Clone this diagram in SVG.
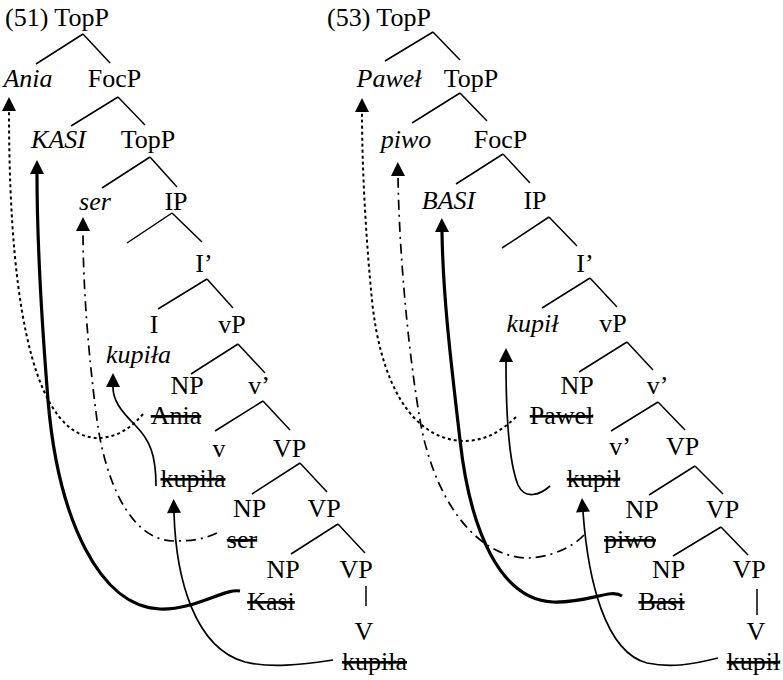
<svg xmlns="http://www.w3.org/2000/svg" width="783" height="680" viewBox="0 0 783 680">
<style>
text{font-family:"Liberation Serif","Times New Roman",serif;font-size:26px;fill:#000;text-anchor:middle}
.l{text-anchor:start}
.it{font-style:italic}
.st{text-decoration:line-through}
.tr{stroke:#000;stroke-width:1.5;fill:none}
.mv{fill:none;stroke:#000;stroke-width:1.7}
.thick{stroke-width:3.2}
.dot{stroke-width:2;stroke-dasharray:3 3}
.dd{stroke-dasharray:10 5 2 5}
</style>
<defs>
<marker id="ah" markerUnits="userSpaceOnUse" markerWidth="15" markerHeight="14" refX="0" refY="7" orient="auto" overflow="visible">
<path d="M0,0 L14,7 L0,14 Z" fill="#000" stroke="none"/>
</marker>
</defs>
<g id="connectors">
<g id="tree-lines" class="tr">
<path d="M83,34 L36,64 M83,34 L110,63"/>
<path d="M118,97 L71,126 M118,97 L145,125"/>
<path d="M150,157 L102,188 M150,157 L177,187"/>
<path d="M172,213 L127,243 M172,213 L202,242"/>
<path d="M207,279 L158,309 M207,279 L233,308"/>
<path d="M238,344 L191,374 M238,344 L265,373"/>
<path d="M263,401 L215,431 M263,401 L290,430"/>
<path d="M300,463 L252,494 M300,463 L327,492"/>
<path d="M338,524 L291,554 M338,524 L365,553"/>
<path d="M366,586 L366,606"/>
<path d="M433,32 L385,61 M433,32 L460,60"/>
<path d="M460,93 L412,123 M460,93 L487,121"/>
<path d="M503,154 L456,184 M503,154 L530,183"/>
<path d="M549,217 L502,248 M549,217 L577,246"/>
<path d="M590,278 L542,308 M590,278 L617,307"/>
<path d="M627,342 L579,372 M627,342 L653,370"/>
<path d="M658,402 L611,431 M658,402 L685,430"/>
<path d="M695,466 L649,495 M695,466 L723,494"/>
<path d="M721,527 L673,556 M721,527 L748,555"/>
<path d="M757,589 L757,615"/>
</g>
<g id="movement-51">
<path class="mv dot" marker-end="url(#ah)" d="M143,414 C128,432 112,438 97,438 C40,436 9,330 9,111"/>
<path class="mv thick" marker-end="url(#ah)" d="M240,591 C225,588 195,610 160,609 C100,607 58,520 48,400 C40,300 37,230 37,174"/>
<path class="mv dd" marker-end="url(#ah)" d="M217,533 C200,541 185,541 173,541 C130,540 105,480 97,420 C89,360 83,290 83,231"/>
<path class="mv" marker-end="url(#ah)" d="M156,486 C156,455 150,440 135,425 C120,410 113,400 113,387"/>
<path class="mv" marker-end="url(#ah)" d="M333,660 C300,665 270,668 245,662 C195,648 176,580 174,513"/>
</g>
<g id="movement-53">
<path class="mv dot" marker-end="url(#ah)" d="M516,417 C500,432 485,441 463,441 C410,439 380,380 372,300 C366,240 362,170 362,112"/>
<path class="mv dd" marker-end="url(#ah)" d="M584,535 C570,550 545,558 527,558 C470,556 432,490 420,420 C408,350 399,250 398,176"/>
<path class="mv thick" marker-end="url(#ah)" d="M622,596 C610,588 590,603 553,602 C500,600 470,530 460,440 C452,370 443,300 442,232"/>
<path class="mv" marker-end="url(#ah)" d="M550,486 C540,495 525,500 518,485 C510,465 506,420 506,362"/>
<path class="mv" marker-end="url(#ah)" d="M718,658 C690,665 670,668 647,663 C605,652 588,580 583,512"/>
</g>
</g>
<g id="tree51">
<g id="n51-root"><text class="l" x="5" y="26">(51) TopP</text></g>
<g id="n51-ania"><text class="it" x="28" y="87">Ania</text></g>
<g id="n51-focp"><text x="114.5" y="87">FocP</text></g>
<g id="n51-kasi"><text class="it" x="58.5" y="148">KASI</text></g>
<g id="n51-topp"><text x="148" y="148">TopP</text></g>
<g id="n51-ser"><text class="it" x="95" y="210">ser</text></g>
<g id="n51-ip"><text x="176" y="210">IP</text></g>
<g id="n51-ibar"><text x="204" y="272">I’</text></g>
<g id="n51-i"><text x="154" y="333">I</text><text class="it" x="138.5" y="363">kupiła</text></g>
<g id="n51-vp"><text x="232" y="333">vP</text></g>
<g id="n51-np1"><text x="187" y="394">NP</text><text class="st" x="176" y="424">Ania</text></g>
<g id="n51-vbar"><text x="259" y="394">v’</text></g>
<g id="n51-v"><text x="219" y="457">v</text><text class="st" x="193" y="487">kupiła</text></g>
<g id="n51-vp1"><text x="289.5" y="457">VP</text></g>
<g id="n51-np2"><text x="249.5" y="517">NP</text><text class="st" x="242" y="548">ser</text></g>
<g id="n51-vp2"><text x="324" y="517">VP</text></g>
<g id="n51-np3"><text x="283" y="578">NP</text><text class="st" x="271" y="610">Kasi</text></g>
<g id="n51-vp3"><text x="356" y="578">VP</text></g>
<g id="n51-V"><text x="364" y="640">V</text><text class="st" x="374.5" y="670">kupiła</text></g>
</g>
<g id="tree53">
<g id="n53-root"><text class="l" x="327" y="26">(53) TopP</text></g>
<g id="n53-pawel"><text class="it" x="389" y="87">Paweł</text></g>
<g id="n53-topp"><text x="471" y="87">TopP</text></g>
<g id="n53-piwo"><text class="it" x="406" y="148">piwo</text></g>
<g id="n53-focp"><text x="500.5" y="148">FocP</text></g>
<g id="n53-basi"><text class="it" x="448.5" y="209">BASI</text></g>
<g id="n53-ip"><text x="535" y="209">IP</text></g>
<g id="n53-ibar"><text x="585" y="272">I’</text></g>
<g id="n53-kupil"><text class="it" x="532.5" y="332">kupił</text></g>
<g id="n53-vp"><text x="613" y="332">vP</text></g>
<g id="n53-np1"><text x="577" y="394">NP</text><text class="st" x="561.5" y="424">Paweł</text></g>
<g id="n53-vbar"><text x="657.5" y="394">v’</text></g>
<g id="n53-vbar2"><text x="620" y="455">v’</text><text class="st" x="593.5" y="487">kupił</text></g>
<g id="n53-vp1"><text x="682.5" y="455">VP</text></g>
<g id="n53-np2"><text x="642" y="518">NP</text><text class="st" x="630" y="548">piwo</text></g>
<g id="n53-vp2"><text x="722.5" y="518">VP</text></g>
<g id="n53-np3"><text x="668.5" y="578">NP</text><text class="st" x="661.5" y="610">Basi</text></g>
<g id="n53-vp3"><text x="749" y="578">VP</text></g>
<g id="n53-V"><text x="756" y="640">V</text><text class="st" x="753.5" y="670">kupił</text></g>
</g>
</svg>
